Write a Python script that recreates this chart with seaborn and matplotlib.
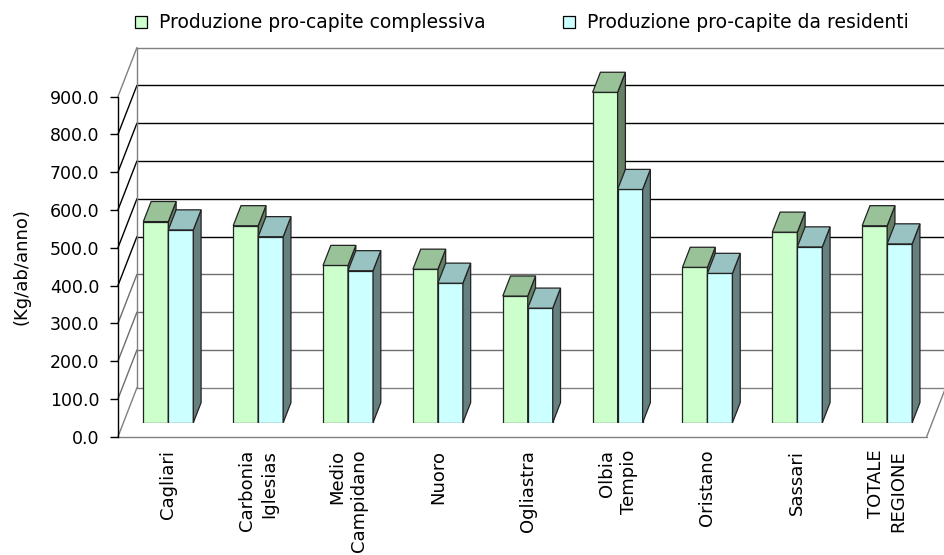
"""
Produzione pro-capite di rifiuti urbani per provincia (grafico a colonne 3D)
"""

# Libraries
import matplotlib
matplotlib.use("Agg")
import matplotlib.pyplot as plt
from matplotlib.patches import Polygon, Patch
import pandas as pd
import seaborn as sns

# Data
zones = ["Cagliari", "Carbonia\nIglesias", "Medio\nCampidano", "Nuoro", "Ogliastra",
         "Olbia\nTempio", "Oristano", "Sassari", "TOTALE\nREGIONE"]
complessiva = [532, 521, 416, 406, 335, 874, 411, 504, 521]
residenti = [510, 492, 402, 369, 303, 617, 395, 465, 473]
series = ["Produzione pro-capite complessiva", "Produzione pro-capite da residenti"]
y_ticks = list(range(0, 1000, 100))

# Colours (front, top, side)
front_colours = ["#CCFFCC", "#CCFFFF"]
top_colours = ["#99C299", "#99C2C2"]
side_colours = ["#668066", "#668080"]

# Pseudo-3D depth (category units / value units for the full depth)
DEPTH_X = 0.2114
DEPTH_Y = 129.6
T_FRONT = -0.286
T_BACK = 0.714
T_BAR = 0.41

sns.set_style("white")
plt.rcParams["font.family"] = ["DejaVu Sans"]
plt.rcParams["text.color"] = "black"
plt.rcParams["axes.labelcolor"] = "black"
plt.rcParams["xtick.color"] = "black"
plt.rcParams["ytick.color"] = "black"

df = pd.DataFrame({
    "zona": zones * 2,
    "valore": complessiva + residenti,
    "serie": [series[0]] * len(zones) + [series[1]] * len(zones),
})

fig = plt.figure(figsize=(9.44, 5.55), dpi=100)
W, H = 944, 555
ax = fig.add_axes([123.4 / W, (H - 422.7) / H, 808.7 / W, 340.2 / H])
ax.patch.set_visible(False)

sns.barplot(data=df, x="zona", y="valore", hue="serie", order=zones, hue_order=series,
            palette=front_colours, saturation=1, width=0.556, edgecolor="#222222",
            linewidth=0.9, legend=False, ax=ax)
ax.set_xlim(-0.5, 8.5)
ax.set_ylim(0, 900)

# Walls and floor
fx, fy = -0.5 + T_FRONT * DEPTH_X, T_FRONT * DEPTH_Y
bx, by = -0.5 + T_BACK * DEPTH_X, T_BACK * DEPTH_Y
rfx, rbx = 8.5 + T_FRONT * DEPTH_X, 8.5 + T_BACK * DEPTH_X
for v in y_ticks:
    if v in (0, 900):
        col = "#808080"
    elif v >= 400:
        col = "black"
    else:
        col = "#6e6e6e"
    ax.plot([bx, rbx], [v + by, v + by], color=col, lw=1, zorder=0.5, clip_on=False)
    ax.plot([fx, bx], [v + fy, v + by], color=col, lw=1, zorder=0.5, clip_on=False)
ax.plot([bx, bx], [by, 900 + by], color="#808080", lw=1, zorder=0.5, clip_on=False)
ax.plot([fx, rfx], [fy, fy], color="#808080", lw=1, zorder=0.5, clip_on=False)
ax.plot([rfx, rbx], [fy, by], color="#808080", lw=1, zorder=0.5, clip_on=False)

# Side and top faces of each bar
ddx, ddy = T_BAR * DEPTH_X, T_BAR * DEPTH_Y
for k, container in enumerate(ax.containers):
    for bar in container:
        z = 2 + k
        bar.set_zorder(z)
        x0, y0, w, h = bar.get_x(), bar.get_y(), bar.get_width(), bar.get_height()
        side = [(x0 + w, y0), (x0 + w + ddx, y0 + ddy), (x0 + w + ddx, y0 + h + ddy), (x0 + w, y0 + h)]
        top = [(x0, y0 + h), (x0 + w, y0 + h), (x0 + w + ddx, y0 + h + ddy), (x0 + ddx, y0 + h + ddy)]
        ax.add_patch(Polygon(side, closed=True, facecolor=side_colours[k], edgecolor="#222222",
                             lw=0.9, zorder=z, clip_on=False))
        ax.add_patch(Polygon(top, closed=True, facecolor=top_colours[k], edgecolor="#222222",
                             lw=0.9, zorder=z, clip_on=False))

# Category labels
for s in ax.spines.values():
    s.set_visible(False)
ax.set_yticks([])
ax.set_xlabel("")
ax.set_ylabel("")
ax.tick_params(axis="x", length=0, pad=19.5)
for lab in ax.get_xticklabels():
    lab.set_rotation(90)
    lab.set_fontsize(13)
    lab.set_color("black")
    lab.set_multialignment("right")
    lab.set_linespacing(1.3)

# Front value axis
inv = fig.transFigure.inverted()
p0 = inv.transform(ax.transData.transform((fx, 0 + fy)))
p1 = inv.transform(ax.transData.transform((fx, 900 + fy)))
yax = fig.add_axes([p0[0], p0[1], 0.0005, p1[1] - p0[1]])
yax.patch.set_visible(False)
yax.set_ylim(0, 900)
yax.set_yticks(y_ticks, [f"{v:.1f}" for v in y_ticks])
yax.set_xticks([])
for name, s in yax.spines.items():
    s.set_visible(name == "left")
yax.spines["left"].set_color("black")
yax.spines["left"].set_linewidth(1)
yax.tick_params(axis="y", length=5.8, width=1, pad=7.5, labelsize=12.5, left=True, colors="black")
yax.set_ylabel("(Kg/ab/anno)", fontsize=13, labelpad=14)

# Legend
for i, name in enumerate(series):
    fig.legend(handles=[Patch(facecolor=front_colours[i], edgecolor="black", lw=0.9)],
               labels=[name], loc="center left",
               bbox_to_anchor=([135, 563][i] / W, 1 - 23 / H),
               frameon=False, fontsize=13.5, handlelength=0.65, handleheight=0.65,
               handletextpad=0.65, borderpad=0, borderaxespad=0, labelcolor="black")

fig.savefig("out.png", dpi=100, facecolor="white")
